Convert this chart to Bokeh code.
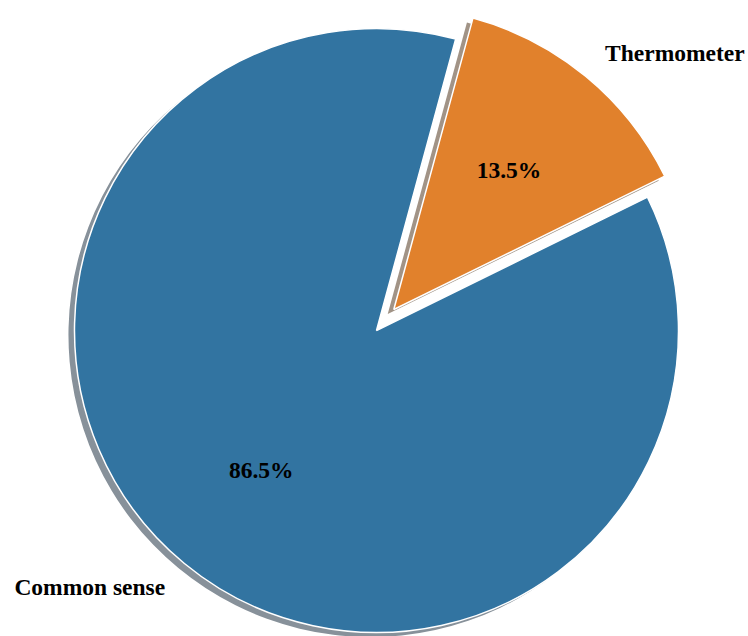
import numpy as np
from bokeh.plotting import figure
from bokeh.models import Range1d, ColumnDataSource
from bokeh.core.properties import value
from bokeh.embed import file_html
from bokeh.resources import INLINE

# ---- data ----
labels = ["Thermometer", "Common sense"]
values = [13.5, 86.5]
explode = [0.09, 0.0]
colors = ["#e1812c", "#3274a1"]
shadow_colors = ["#a19386", "#87919a"]
start_deg = 26.2

vals = np.array(values, dtype=float)
frac = vals / vals.sum()
ends = np.deg2rad(start_deg) + 2 * np.pi * np.cumsum(frac)
starts = ends - 2 * np.pi * frac
mids = (starts + ends) / 2
ex = np.array(explode)
cx = ex * np.cos(mids)
cy = ex * np.sin(mids)

p = figure(width=748, height=636, output_backend="svg", toolbar_location=None,
           x_range=Range1d(-1.2450, 1.2318), y_range=Range1d(-1.0132, 1.0927),
           min_border=0)
p.axis.visible = False
p.grid.visible = False
p.outline_line_color = None
p.background_fill_color = "white"
p.border_fill_color = "white"

# shadow
sh = ColumnDataSource(dict(x=cx - 0.02, y=cy - 0.015, s=starts, e=ends, c=shadow_colors))
p.wedge(x="x", y="y", radius=1.0, start_angle="s", end_angle="e", fill_color="c",
        line_color=None, source=sh)

src = ColumnDataSource(dict(x=cx, y=cy, s=starts, e=ends, c=colors))
p.wedge(x="x", y="y", radius=1.0, start_angle="s", end_angle="e", fill_color="c",
        line_color="white", line_width=1.5, source=src)

# outer labels
lx = cx + 1.1 * np.cos(mids)
ly = cy + 1.1 * np.sin(mids)
for i, lab in enumerate(labels):
    p.text(x=[lx[i]], y=[ly[i]], text=[lab], text_font=value("Liberation Serif"),
           text_font_style="bold", text_font_size="23.5px",
           text_align="left" if lx[i] > 0 else "right", text_baseline="middle",
           text_color="black")

# percentage labels
px = cx + 0.6 * np.cos(mids)
py = cy + 0.6 * np.sin(mids)
pct = ["%.1f%%" % (f * 100) for f in frac]
p.text(x=px, y=py, text=pct, text_font=value("Liberation Serif"),
       text_font_style="bold", text_font_size="23.5px",
       text_align="center", text_baseline="middle", text_color="black")

open("out.html", "w").write(file_html(p, INLINE))
